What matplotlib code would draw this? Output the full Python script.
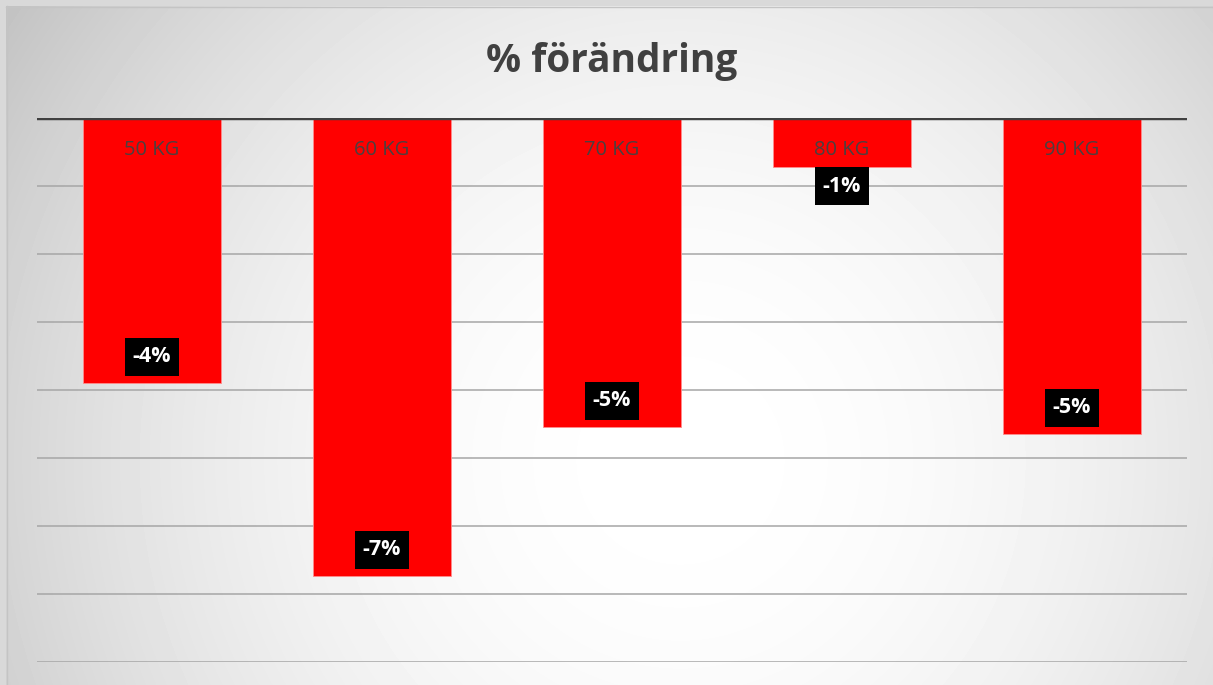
import numpy as np
import matplotlib
matplotlib.use("Agg")
import matplotlib.pyplot as plt
from matplotlib.patches import Rectangle

# weight classes and their change in percent
categories = ["50 KG", "60 KG", "70 KG", "80 KG", "90 KG"]
change = [-3.9, -6.74, -4.55, -0.72, -4.65]

W, H = 1213, 685
plt.rcParams['font.family'] = ['Open Sans', 'DejaVu Sans']

fig = plt.figure(figsize=(W / 100, H / 100), dpi=100)

# radial grey-to-white backdrop
bg = fig.add_axes([0, 0, 1, 1])
yy, xx = np.mgrid[0:H, 0:W]
d = np.hypot(xx - 680, yy - 460) / np.hypot(680, 460)
shade = 255 - 62 * np.clip(d, 0, 1) ** 2
bg.imshow(shade, cmap='gray', vmin=0, vmax=255, extent=(0, W, H, 0), aspect='auto')
bg.add_patch(Rectangle((0, 0), W, 6, color='#d9d9d9', lw=0))
bg.add_patch(Rectangle((0, 0), 6, H, color='#d9d9d9', lw=0))
bg.plot([6, W], [6.5, 6.5], color='#c4c4c4', lw=1)
bg.plot([6.5, 6.5], [6, H], color='#c4c4c4', lw=1)
bg.set_xlim(0, W)
bg.set_ylim(H, 0)
bg.axis('off')

fig.text(612 / W, 1 - 72 / H, "% förändring", ha='center', va='baseline',
         fontsize=28, fontweight='bold', color='#404040')

# plot area: zero line at the top, one gridline per percent
ax = fig.add_axes([37 / W, 1 - 662 / H, 1150 / W, 544 / H])
ax.patch.set_alpha(0)
x = np.arange(len(categories))
ax.set_xlim(-0.5, len(categories) - 0.5)
ax.set_ylim(-8, 0)
for s in ax.spines.values():
    s.set_visible(False)
ax.set_xticks([])
ax.set_yticks(np.arange(-8, 0))
ax.tick_params(left=False, labelleft=False)
ax.grid(axis='y', color='#a6a6a6', lw=1.1)
ax.set_axisbelow(True)

ax.bar(x, change, width=0.6, color='#ff0000', edgecolor='#ff8c8c', lw=0.6, zorder=2)
ax.axhline(0, color='#404040', lw=3.2, zorder=4)

for i, (cat, v) in enumerate(zip(categories, change)):
    ax.annotate(cat, xy=(i, 0), xytext=(0, -32), textcoords='offset pixels',
                ha='center', va='center', fontsize=14.5, color='#4a4040', zorder=5)
    # label sits inside the bar end, or below it when the bar is short
    cy = v + 0.39 if v < -1.5 else v - 0.28
    ax.add_patch(Rectangle((i - 0.1175, cy - 0.28), 0.235, 0.56, color='black',
                           lw=0, zorder=5, clip_on=False))
    ax.text(i, cy, "{:.0f}%".format(v), ha='center', va='center', fontsize=15.5,
            fontweight='bold', color='white', zorder=6)

fig.savefig("out.png", dpi=100)
